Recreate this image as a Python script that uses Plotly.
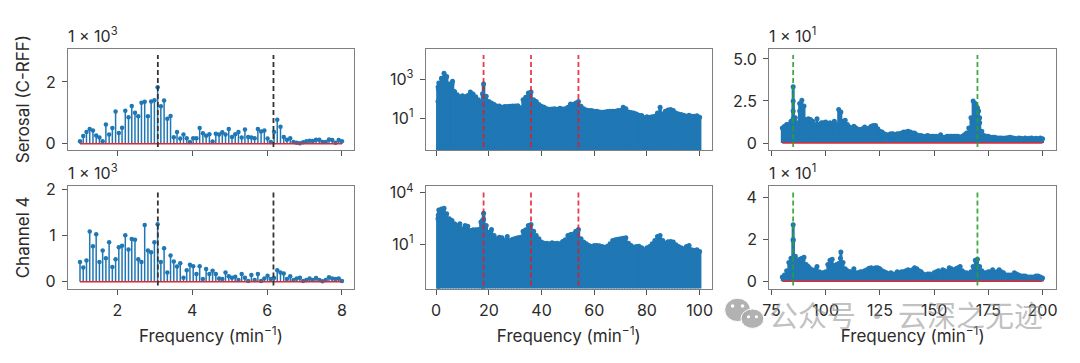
import numpy as np
import plotly.graph_objects as go

W, H = 1080, 363
C0 = "#1f77b4"
INK = "#2b2b2b"
SPINE = "#7f7f7f"
FONT = "Inter"
PAGE_DX, PAGE_DY = 4, 4.5  # the page sits this far from the window corner

# Left column (units of 1e3)
serosal_low = [.08,.25,.38,.48,.43,.27,.2,.08,.62,.3,.51,1.04,.35,.52,1.07,.86,1.22,1.0,.89,1.33,1.36,.89,1.37,1.41,1.83,
               1.21,1.4,.81,.9,.21,.38,.17,.3,.18,.06,.18,.18,.51,.34,.26,.31,.07,.32,.3,.37,.3,.48,.22,.31,.38,.2,.46,.22,.2,.18,
               .48,.4,.43,.17,.06,.38,.78,.55,.22,.13,.18,.06,.03,.02,.05,.08,.1,.09,.13,.13,.06,.06,.14,.12,.03,.12,.08]
channel_low = [.43,.31,.46,1.09,.77,1.03,.43,.68,.51,.86,.32,.49,.75,.78,1.01,.7,.93,.91,.49,.43,1.23,.68,.64,.86,1.25,
               .43,.73,.2,.57,.44,.33,.4,.09,.25,.37,.34,.17,.34,.06,.28,.17,.24,.17,.07,.06,.2,.12,.09,.11,.04,.17,.09,.02,.15,.04,
               .17,.02,.07,.13,.06,.08,.25,.2,.18,.06,.12,.04,.07,.09,.02,.04,.07,.04,.08,.04,.01,.04,.1,.07,.06,.07,.02]
freq_low = np.linspace(1, 8, len(serosal_low))

# Middle column: log10 of the upper envelope at 1..100 per minute
mid_freq = list(range(1, 101))
serosal_mid_log = [2.8,3.05,3.3,3.14,2.76,2.76,2.37,2.2,2.1,2.15,2.1,2.17,2.34,2.24,2.1,1.95,1.83,2.76,2.12,1.86,
                   1.78,1.7,1.63,1.63,1.56,1.6,1.6,1.61,1.63,1.63,1.64,1.53,1.95,2.07,2.29,2.34,1.95,1.86,1.7,1.61,
                   1.56,1.49,1.46,1.47,1.49,1.46,1.51,1.47,1.49,1.56,1.73,1.7,1.78,1.86,1.61,1.49,1.42,1.39,1.39,1.36,
                   1.36,1.32,1.3,1.32,1.34,1.36,1.36,1.36,1.39,1.39,1.56,1.49,1.32,1.29,1.27,1.22,1.15,1.14,1.02,1.07,
                   1.05,1.08,1.1,1.27,1.56,1.22,1.36,1.42,1.44,1.39,1.27,1.22,1.19,1.15,1.1,1.15,1.1,1.1,1.12,1.05]
channel_mid_log = [3.0,3.05,3.1,2.77,2.48,2.38,2.19,2.09,2.19,1.9,2.09,2.05,1.8,1.84,1.84,1.86,2.29,2.81,2.09,1.7,
                   1.86,1.51,1.31,1.41,1.37,1.21,1.45,1.21,1.29,1.33,1.37,1.41,1.76,1.84,2.09,2.15,1.76,1.51,1.31,1.12,
                   1.06,1.06,1.02,1.08,1.04,1.06,1.02,1.16,1.25,1.51,1.57,1.6,1.76,1.86,1.31,1.12,1.02,.92,.86,.92,
                   .92,.9,.86,.82,.88,1.02,1.21,1.25,1.29,1.31,1.35,1.37,1.06,.92,.82,.86,.88,.79,.67,.79,
                   .86,1.02,1.21,1.45,1.51,1.21,1.06,1.14,1.16,1.12,.96,.86,.79,.73,.86,.92,.67,.63,.67,.57]
serosal_mid_extra_f = [.7,.75,.85,17.6,6.2]
serosal_mid_extra_log = [1.86,2.6,2.5,2.25,2.9]
channel_mid_extra_f = [.7,.8,17.6,18.0]
channel_mid_extra_log = [2.48,2.7,2.4,2.45]

# Right column (units of 1e1)
high_freq = list(range(80, 201))
serosal_high = [.9,1.0,1.1,1.1,1.3,3.35,1.5,1.2,2.35,2.55,2.2,1.4,1.45,1.4,1.3,1.1,1.45,1.1,1.2,1.2,
                1.25,1.1,1.2,1.15,1.3,1.1,2.0,1.85,1.3,1.35,1.1,.95,.9,1.0,.9,.8,.8,.85,.95,.8,
                .9,1.0,1.05,1.05,.85,.7,.65,.55,.5,.5,.55,.55,.5,.55,.55,.6,.65,.65,.7,.65,
                .6,.6,.5,.45,.45,.4,.4,.45,.4,.4,.4,.4,.35,.5,.35,.35,.4,.4,.4,.4,
                .4,.4,.35,.4,.5,.6,.9,1.5,2.5,2.35,2.1,1.5,.7,.45,.4,.4,.35,.35,.35,.3,
                .3,.3,.28,.3,.32,.35,.32,.28,.25,.3,.28,.25,.3,.25,.28,.3,.25,.28,.25,.3,.25]
channel_high = [.2,.3,.5,.9,1.1,2.7,1.2,1.0,1.05,1.1,1.15,.8,.7,.6,.5,.55,.7,.45,.4,.4,
                .45,.8,1.0,1.05,.75,.8,.85,1.4,.9,.6,.5,.45,.45,.6,.4,.4,.45,.45,.5,.55,
                .62,.65,.6,.65,.65,.6,.5,.45,.4,.35,.4,.35,.35,.45,.4,.45,.45,.5,.55,.5,
                .55,.65,.6,.5,.45,.35,.3,.35,.35,.3,.4,.45,.5,.4,.55,.5,.45,.65,.6,.5,
                .6,.65,.7,.5,.4,.4,.35,.45,.7,1.0,1.05,.7,.5,.4,.4,.45,.45,.55,.4,.45,
                .55,.45,.4,.3,.3,.3,.3,.4,.35,.3,.25,.25,.25,.2,.2,.2,.2,.25,.25,.2,.15]
serosal_high_extra_f = [85,85,85,168.6,169.4,170.5,171,88,89.3]
serosal_high_extra_v = [2.5,1.9,1.45,1.5,2.2,1.9,1.2,1.9,1.8]
channel_high_extra_f = [85,85,84.6,85.4,169.6,170.4,106.8]
channel_high_extra_v = [2.0,1.95,1.0,1.1,.75,.7,1.1]

row_labels = ["Serosal (C-RFF)", "Channel 4"]
x_label = "Frequency (min<sup>−1</sup>)"
offset_text = ["1 × 10<sup>3</sup>", None, "1 × 10<sup>1</sup>", "1 × 10<sup>3</sup>", None, "1 × 10<sup>1</sup>"]
low_marks = [3.08, 6.17]
mid_marks = [18, 36, 54]
high_marks = [85, 170]

col_px = [(65.5, 353.5), (426, 714), (772, 1061)]
row_px = [(47.5, 151.5), (189, 294)]
x_ranges = [(.68, 8.32), (-3.9, 104.6), (74, 206.3)]
y_ranges = [[(-.2, 3.07), (-.63, 4.56), (-.41, 5.6)],
            [(-.146, 2.07), (-1.59, 4.37), (-.35, 4.54)]]
x_ticks = [[2, 4, 6, 8], [0, 20, 40, 60, 80, 100], [75, 100, 125, 150, 175, 200]]
y_ticks = [[([0, 2], ["0", "2"]), ([1e1, 1e3], ["10<sup>1</sup>", "10<sup>3</sup>"]), ([0, 2.5, 5], ["0", "2.5", "5.0"])],
           [([0, 1, 2], ["0", "1", "2"]), ([1e1, 1e4], ["10<sup>1</sup>", "10<sup>4</sup>"]), ([0, 2, 4], ["0", "2", "4"])]]


def px(v):
    return (v - PAGE_DX) / W


def py(v):
    return 1 - (v - PAGE_DY) / H


def stem_path(f, v, base):
    xs, ys = [], []
    for a, b in zip(f, v):
        xs += [a, a, None]
        ys += [base, b, None]
    return xs, ys


fig = go.Figure()
panels = [
    (0, 0, list(freq_low), serosal_low, [], [], low_marks, "#333333", 1.5, 4.5),
    (0, 1, mid_freq, [10 ** e for e in serosal_mid_log], serosal_mid_extra_f, [10 ** e for e in serosal_mid_extra_log], mid_marks, "rgba(230,25,35,.85)", 3.6, 5),
    (0, 2, high_freq, serosal_high, serosal_high_extra_f, serosal_high_extra_v, high_marks, "rgba(44,160,44,.9)", 3.0, 5),
    (1, 0, list(freq_low), channel_low, [], [], low_marks, "#333333", 1.5, 4.5),
    (1, 1, mid_freq, [10 ** e for e in channel_mid_log], channel_mid_extra_f, [10 ** e for e in channel_mid_extra_log], mid_marks, "rgba(230,25,35,.85)", 3.6, 5),
    (1, 2, high_freq, channel_high, channel_high_extra_f, channel_high_extra_v, high_marks, "rgba(44,160,44,.9)", 3.0, 5),
]
layout_axes = {}
shapes, annotations = [], []
for idx, (r, c, f, v, ef, ev, marks, mark_col, sw, ms) in enumerate(panels):
    n = idx + 1
    suffix = "" if n == 1 else str(n)
    xa, ya = f"x{suffix}", f"y{suffix}"
    is_log = c == 1
    all_f, all_v = list(f) + list(ef), list(v) + list(ev)
    base = 1e-3 if is_log else 0
    sx, sy = stem_path(all_f, all_v, base)
    fig.add_trace(go.Scatter(x=sx, y=sy, mode="lines", xaxis=xa, yaxis=ya, showlegend=False,
                             line=dict(color=C0, width=sw), hoverinfo="skip"))
    fig.add_trace(go.Scatter(x=all_f, y=all_v, mode="markers", xaxis=xa, yaxis=ya, showlegend=False,
                             marker=dict(color=C0, size=ms)))
    if not is_log:
        fig.add_trace(go.Scatter(x=[min(all_f), max(all_f)], y=[0, 0], mode="lines", xaxis=xa, yaxis=ya,
                                 showlegend=False, line=dict(color="#e8262d", width=1.6), hoverinfo="skip"))
    x0, x1 = col_px[c]
    y0, y1 = row_px[r]
    layout_axes[f"xaxis{suffix}"] = dict(
        domain=[px(x0), px(x1)], range=list(x_ranges[c]), anchor=ya, tickvals=x_ticks[c],
        showticklabels=r == 1, ticks="outside", ticklen=5, tickwidth=1, tickcolor="#555555", ticklabelstandoff=2,
        showline=True, mirror=True, linecolor=SPINE, linewidth=1.3, showgrid=False, zeroline=False,
        tickfont=dict(family=FONT, size=16, color=INK),
        title=dict(text=x_label if r == 1 else "", font=dict(family=FONT, size=17, color=INK), standoff=11))
    tv, tt = y_ticks[r][c]
    layout_axes[f"yaxis{suffix}"] = dict(
        domain=[py(y1), py(y0)], range=list(y_ranges[r][c]), anchor=xa,
        type="log" if is_log else "linear", tickvals=tv, ticktext=tt,
        ticks="outside", ticklen=5, tickwidth=1, tickcolor="#555555", ticklabelstandoff=3,
        showline=True, mirror=True, linecolor=SPINE, linewidth=1.3, showgrid=False, zeroline=False,
        tickfont=dict(family=FONT, size=16, color=INK))
    for m in marks:
        shapes.append(dict(type="line", xref=xa, yref=f"{ya} domain", x0=m, x1=m, y0=.03, y1=.94,
                           line=dict(color=mark_col, width=1.8, dash="5px,3px"), layer="above"))
    if offset_text[idx]:
        annotations.append(dict(text=offset_text[idx], xref="paper", yref="paper", x=px(x0 - 2), y=py(y0 - 1),
                                xanchor="left", yanchor="bottom", showarrow=False,
                                font=dict(family=FONT, size=16, color=INK)))
    if c == 0:
        annotations.append(dict(text=row_labels[r], xref="paper", yref="paper", x=px(21), y=py((y0 + y1) / 2),
                                xanchor="center", yanchor="middle", textangle=-90, showarrow=False,
                                font=dict(family=FONT, size=17, color=INK)))

# Watermark
annotations.append(dict(text="公众号 · 云深之无迹", xref="paper", yref="paper", x=px(910), y=py(320),
                        xanchor="center", yanchor="middle", showarrow=False,
                        font=dict(family="Noto Sans CJK SC", size=29, color="rgba(140,140,140,.55)")))
for cx, cy, rx, ry, col in [(740, 316, 13, 12, "rgba(170,170,170,.9)"), (755, 325, 11.5, 10, "rgba(170,170,170,.9)"),
                            (735, 312, 1.8, 1.8, "white"), (745, 312, 1.8, 1.8, "white"),
                            (751, 323, 1.6, 1.6, "white"), (759, 323, 1.6, 1.6, "white")]:
    shapes.append(dict(type="circle", xref="paper", yref="paper", x0=px(cx - rx), x1=px(cx + rx),
                       y0=py(cy + ry), y1=py(cy - ry), fillcolor=col,
                       line=dict(color="white", width=1 if rx > 5 else 0), layer="above"))

fig.update_layout(width=W, height=H, margin=dict(l=0, r=0, t=0, b=0), paper_bgcolor="white", plot_bgcolor="white",
                  shapes=shapes, annotations=annotations, showlegend=False, **layout_axes)
fig.write_html("out.html", config={"displayModeBar": False},
               post_script="document.body.style.margin='0';document.documentElement.style.margin='0';")
